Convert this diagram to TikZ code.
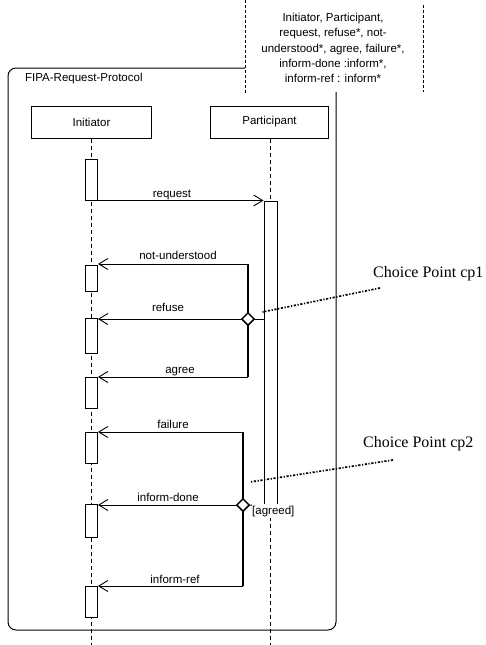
\documentclass[tikz,border=0pt]{standalone}
\usepackage{fontspec}
\setmainfont{Liberation Sans}
\newfontfamily\cpfont{Liberation Serif}
\usetikzlibrary{arrows.meta,shapes.geometric}
\tikzset{
  lbl/.style={font=\fontsize{11.5}{15.3}\selectfont, inner sep=0},
  objbox/.style={draw, line width=1pt, fill=white, minimum width=120pt, minimum height=32pt, lbl},
  actbox/.style={draw, fill=white, line width=1pt, minimum width=12pt, inner sep=0},
  lifeline/.style={dash pattern=on 4pt off 3pt, line width=1pt},
  msg/.style={line width=1pt, -{Straight Barb[length=9pt,width=11pt,line width=0.9pt]}},
  plain/.style={line width=1pt},
  bold/.style={line width=2.2pt},
  choice/.style={diamond, draw, fill=white, line width=1.5pt, minimum size=13pt, inner sep=0},
  notel/.style={dash pattern=on 2.2pt off 1.6pt on 1.2pt off 1.6pt, line width=1.7pt},
  cptext/.style={font=\cpfont\fontsize{16}{18}\selectfont, inner sep=0, anchor=base west},
}
\begin{document}
\begin{tikzpicture}[x=1pt,y=-1pt]
\useasboundingbox (0,0) rectangle (485,645);
% frame
\draw[plain, rounded corners=8pt] (8,68) rectangle (336,630);
\node[lbl, anchor=base west] (fipa) at (25,81) {FIPA-Request-Protocol};
% annotation box
\node[fill=white, minimum width=178pt, minimum height=92pt, inner sep=0, anchor=north west] (ann) at (245,0) {};
\draw[dash pattern=on 3pt off 2pt, line width=1pt] (ann.north west) -- ([yshift=-2pt]ann.south west);
\draw[dash pattern=on 3pt off 2pt, line width=1pt] ([yshift=-5pt]ann.north east) -- (ann.south east);
\node[lbl, align=center, anchor=north] (anntext) at (333,13) {Initiator, Participant,\\request, refuse*, not-\\understood*, agree, failure*,\\inform-done :inform*,\\inform-ref : inform*};
% objects
\node[objbox] (init) at (91.5,122) {Initiator};
\node[objbox, minimum width=118pt] (part) at (269.5,122) {Participant};
% lifelines
\coordinate (initend) at (91.5,645);
\coordinate (partend) at (270.5,645);
\draw[lifeline] (init.south) -- (initend);
\draw[lifeline] (part.south -| partend) -- (partend);
% activations
\node[actbox, minimum height=41pt] (a1) at (91.5,179.5) {};
\node[actbox, minimum height=26pt] (a2) at (91.5,278) {};
\node[actbox, minimum height=35pt] (a3) at (91.5,335.5) {};
\node[actbox, minimum height=31pt] (a4) at (91.5,392.5) {};
\node[actbox, minimum height=31pt] (a5) at (91.5,447.5) {};
\node[actbox, minimum height=33pt] (a6) at (91.5,520.5) {};
\node[actbox, minimum height=31pt] (a7) at (91.5,601.5) {};
\node[actbox, minimum width=13pt, minimum height=304pt] (pa) at (270.5,353) {};
% request
\draw[msg] (a1.south east) -- (a1.south east -| pa.west);
\node[lbl, anchor=base] (lreq) at (172,197) {request};
% choice point 1
\coordinate (nu) at (248,264);
\coordinate (ag) at (248,377);
\draw[bold] (nu) -- (ag);
\node[choice] (d1) at (248,319) {};
\draw[msg] (nu) -- (nu -| a2.east);
\draw[msg] (d1.west) -- (d1 -| a3.east);
\draw[msg] (ag) -- (ag -| a4.east);
\draw[plain] (d1.east) -- (d1 -| pa.west);
\node[lbl, anchor=base] (lnu) at (178,259) {not-understood};
\node[lbl, anchor=base] (lref) at (168,311) {refuse};
\node[lbl, anchor=base] (lag) at (180,373) {agree};
% choice point 2
\coordinate (fa) at (243,432);
\coordinate (ir) at (243,586);
\draw[bold] (fa) -- (ir);
\node[choice] (d2) at (243,505) {};
\draw[msg] (fa) -- (fa -| a5.east);
\draw[msg] (d2.west) -- (d2 -| a6.east);
\draw[msg] (ir) -- (ir -| a7.east);
\draw[plain] (d2.east) -- (pa.south east);
\node[lbl, anchor=base] (lfa) at (173,428) {failure};
\node[lbl, anchor=base] (lid) at (168,501) {inform-done};
\node[lbl, anchor=base] (lir) at (175,583) {inform-ref};
\node[lbl, anchor=base west, fill=white, inner ysep=1.5pt] (lagr) at (252,514) {[agreed]};
% choice point notes
\node[cptext] (cp1) at (373,277) {Choice Point cp1};
\node[cptext] (cp2) at (363,447) {Choice Point cp2};
\coordinate (n1) at (380,288);
\coordinate (n2) at (393,460);
\draw[notel] (n1) -- ([xshift=-1pt]pa.west |- 0,312);
\draw[notel] (n2) -- (250,482);
\end{tikzpicture}
\end{document}
